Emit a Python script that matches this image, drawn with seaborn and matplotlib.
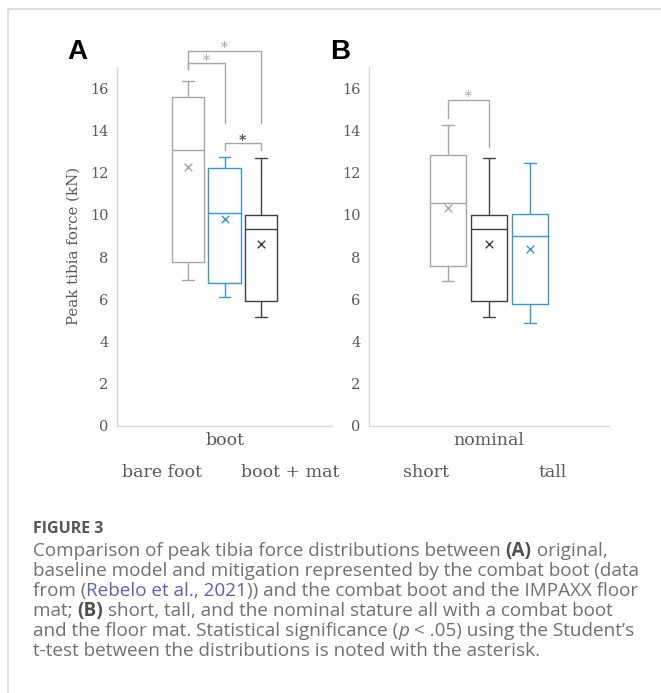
import numpy as np
import pandas as pd
import seaborn as sns
import matplotlib.pyplot as plt
from matplotlib.lines import Line2D

# ---- data (kN)
a_groups = ["bare foot", "boot", "boot + mat"]
a_min = [6.9, 6.1, 5.15]
a_q1 = [7.75, 6.75, 5.9]
a_med = [13.05, 10.1, 9.35]
a_q3 = [15.6, 12.2, 10.0]
a_max = [16.35, 12.75, 12.7]
a_mean = [12.25, 9.8, 8.6]

b_groups = ["short", "nominal", "tall"]
b_min = [6.85, 5.15, 4.9]
b_q1 = [7.6, 5.9, 5.8]
b_med = [10.55, 9.35, 9.0]
b_q3 = [12.85, 10.0, 10.05]
b_max = [14.25, 12.7, 12.45]
b_mean = [10.3, 8.6, 8.4]

# significance brackets: (group i, group j, top, left leg end, right leg end)
a_sig = [(0, 1, 17.18, 16.89, 14.33), (0, 2, 17.77, 16.89, 14.33), (1, 2, 13.38, 13.07, 13.07)]
b_sig = [(0, 1, 15.44, 14.57, 13.22)]

GRAY, BLUE, BLACK = "#a6a6a6", "#2e9bd9", "#404040"
a_colors = [GRAY, BLUE, BLACK]
b_colors = [GRAY, BLACK, BLUE]

sns.set_style("white")
plt.rcParams['font.family'] = ['DejaVu Serif']

W, H = 661, 693
fig = plt.figure(figsize=(W / 100, H / 100), dpi=100)

BOX_W = 0.8 / 3 * (1 - 0.1)


def px_axes(left, right, top, bottom):
    return fig.add_axes([left / W, 1 - bottom / H, (right - left) / W, (bottom - top) / H])


def long_frame(groups, mn, q1, md, q3, mx):
    # five points per group so that the box spans exactly min/q1/median/q3/max
    rows = []
    for g, *vals in zip(groups, mn, q1, md, q3, mx):
        for v in vals:
            rows.append({"axis": groups[1], "group": g, "value": v})
    return pd.DataFrame(rows)


def panel(ax, groups, mn, q1, md, q3, mx, means, colors, sigs, span, others):
    df = long_frame(groups, mn, q1, md, q3, mx)
    pal = dict(zip(groups, colors))
    sns.boxplot(data=df, x="axis", y="value", hue="group", hue_order=groups, palette=pal,
                fill=False, width=0.8, gap=0.1, whis=(0, 100), linewidth=1.0,
                legend=False, ax=ax)
    # narrower whisker caps, like the original
    for ln in ax.lines:
        xd, yd = np.asarray(ln.get_xdata(), float), np.asarray(ln.get_ydata(), float)
        if len(xd) == 2 and yd[0] == yd[1] and abs(abs(xd[1] - xd[0]) - BOX_W / 2) < 1e-6:
            c = xd.mean()
            ln.set_xdata([c - BOX_W * 0.17, c + BOX_W * 0.17])
    mdf = pd.DataFrame({"axis": groups[1], "group": groups, "mean": means})
    sns.stripplot(data=mdf, x="axis", y="mean", hue="group", hue_order=groups, palette=pal,
                  dodge=True, jitter=False, marker="x", size=5.5, linewidth=1.0,
                  legend=False, ax=ax)
    ax.set_xlim(-span / 2, span / 2)
    ax.set_ylim(0, 17)
    ax.set_yticks(np.arange(0, 17, 2))
    ax.set_xlabel("")
    ax.set_ylabel("")
    for s in ["top", "right"]:
        ax.spines[s].set_visible(False)
    for s in ["left", "bottom"]:
        ax.spines[s].set_color("#d9d9d9")
        ax.spines[s].set_linewidth(1.0)
    ax.tick_params(axis="y", length=0, pad=6, labelsize=10.5, labelcolor="#595959")
    ax.tick_params(axis="x", length=0, pad=4, labelsize=12.5, labelcolor="#595959")

    offs = (np.arange(len(groups)) - 1) * 0.8 / len(groups)
    for i, j, top, yl, yr in sigs:
        xi, xj = offs[i], offs[j]
        ax.plot([xi, xi, xj, xj], [yl, top, top, yr], color=GRAY, lw=1.0, clip_on=False)
        dark = (i, j) == (1, 2)
        ax.annotate("*", xy=((xi + xj) / 2, top), xytext=(0, -1), textcoords="offset points",
                    ha="center", va="baseline", fontsize=10,
                    color=BLACK if dark else GRAY, fontweight="bold" if dark else "normal",
                    annotation_clip=False)
    for name, xf in others:
        ax.text(xf, -0.13, name, transform=ax.transAxes, ha="center", va="center",
                fontsize=12.5, color="#595959")


ax_a = px_axes(117, 332, 67, 426)
ax_b = px_axes(369, 609, 67, 426)

panel(ax_a, a_groups, a_min, a_q1, a_med, a_q3, a_max, a_mean, a_colors, a_sig, 1.57,
      [(a_groups[0], 0.209), (a_groups[2], 0.805)])
panel(ax_b, b_groups, b_min, b_q1, b_med, b_q3, b_max, b_mean, b_colors, b_sig, 1.5625,
      [(b_groups[0], 0.236), (b_groups[2], 0.767)])

ax_a.set_ylabel("Peak tibia force (kN)", fontsize=10.8, color="#595959")
ax_a.yaxis.set_label_coords(-0.167, 0.5)

fig.text(77 / W, 1 - 52 / H, "A", family="Liberation Sans", fontweight="bold", fontsize=20,
         ha="center", va="center", color="black")
fig.text(340 / W, 1 - 52 / H, "B", family="Liberation Sans", fontweight="bold", fontsize=20,
         ha="center", va="center", color="black")

# frame around figure
fig.add_artist(Line2D([8 / W, 1], [1 - 8.5 / H] * 2, transform=fig.transFigure, color="#dcdcdc", lw=1.3))
fig.add_artist(Line2D([8 / W] * 2, [0, 1 - 8.5 / H], transform=fig.transFigure, color="#dcdcdc", lw=1.3))

# ---- caption
CAP = "#707070"
cap_font = "Open Sans"
cap_size = 13.6
renderer = fig.canvas.get_renderer()


def rich_line(x, y, parts):
    for txt, kw in parts:
        opts = dict(family=cap_font, fontsize=cap_size, color=CAP, va="baseline", ha="left")
        opts.update(kw)
        t = fig.text(x / W, 1 - y / H, txt, **opts)
        x += t.get_window_extent(renderer).width


fig.text(33 / W, 1 - 533 / H, "FIGURE 3", family=cap_font, fontsize=11.5, fontweight="bold",
         color="#555555", va="baseline", ha="left")
bold = {"fontweight": "bold", "color": "#505050"}
link = {"color": "#5a5fc0"}
lines = [
    [("Comparison of peak tibia force distributions between ", {}), ("(A)", bold), (" original,", {})],
    [("baseline model and mitigation represented by the combat boot (data", {})],
    [("from (", {}), ("Rebelo et al., 2021", link), (")) and the combat boot and the IMPAXX floor", {})],
    [("mat; ", {}), ("(B)", bold), (" short, tall, and the nominal stature all with a combat boot", {})],
    [("and the floor mat. Statistical significance (", {}), ("p", {"style": "italic"}),
     (" < .05) using the Student\u2019s", {})],
    [("t-test between the distributions is noted with the asterisk.", {})],
]
for k, parts in enumerate(lines):
    rich_line(33, 556 + 20 * k, parts)

fig.savefig("out.png", dpi=100)
